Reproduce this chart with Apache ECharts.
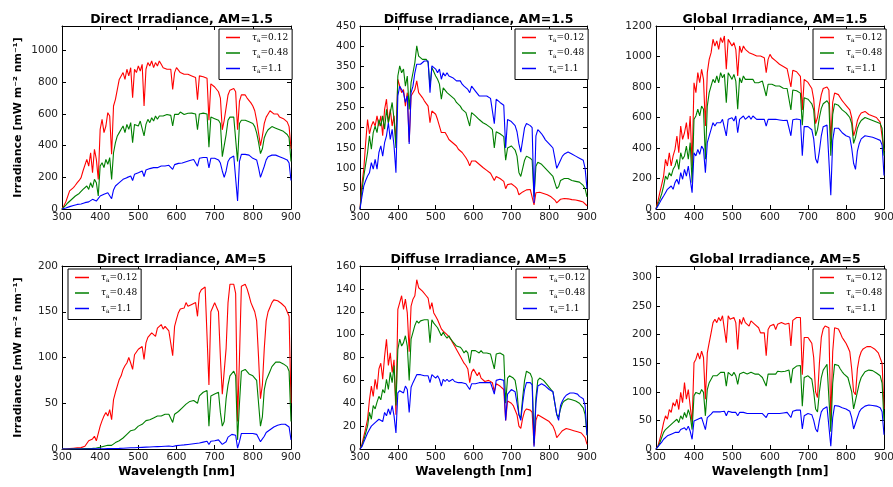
<!DOCTYPE html>
<html>
<head>
<meta charset="utf-8">
<script src="https://cdn.jsdelivr.net/npm/echarts@6/dist/echarts.min.js"></script>
<style>
  html, body { margin: 0; background: #fff; }
  #chart { width: 893px; height: 487px; }
</style>
</head>
<body>
<div id="chart"></div>
<script>
// wavelength grid (nm), 5 nm steps, one row = 50 nm
const wavelength = [
  300,305,310,315,320,325,330,335,340,345,
  350,355,360,365,370,375,380,385,390,395,
  400,405,410,415,420,425,430,435,440,445,
  450,455,460,465,470,475,480,485,490,495,
  500,505,510,515,520,525,530,535,540,545,
  550,555,560,565,570,575,580,585,590,595,
  600,605,610,615,620,625,630,635,640,645,
  650,655,660,665,670,675,680,685,690,695,
  700,705,710,715,720,725,730,735,740,745,
  750,755,760,765,770,775,780,785,790,795,
  800,805,810,815,820,825,830,835,840,845,
  850,855,860,865,870,875,880,885,890,895,
  900
]
const tauLabels = ['0.12', '0.48', '1.1']

// Direct, AM=1.5
const direct15_012 = [
  0,20,45,80,114,125,135,150,166,180,
  198,240,229,313,271,355,229,377,313,187,
  503,566,482,524,608,587,345,650,692,755,
  818,840,861,818,882,840,892,703,882,861,
  903,871,913,650,882,924,903,934,892,924,
  903,934,913,892,903,882,871,882,755,861,
  892,882,861,871,850,861,850,845,840,835,
  830,690,840,838,835,830,825,560,790,780,
  770,760,740,700,500,560,640,720,750,760,
  760,740,500,680,720,725,720,700,690,670,
  650,620,560,480,400,460,540,580,600,620,
  610,600,590,600,580,570,570,560,550,520,
  380
]
const direct15_048 = [
  0,10,25,38,50,60,72,82,93,98,
  103,124,114,145,124,166,135,187,166,82,
  271,292,261,313,282,324,187,355,419,461,
  482,503,524,482,534,503,545,419,534,545,
  524,555,545,461,534,566,545,576,555,587,
  566,587,576,587,576,597,587,591,524,597,
  604,597,612,604,597,608,604,600,605,600,
  600,500,600,605,605,608,600,390,580,575,
  570,565,560,540,330,400,470,560,580,580,
  580,570,300,540,560,565,560,555,550,545,
  540,520,480,420,350,380,450,480,500,510,
  520,515,510,505,500,495,490,480,470,450,
  300
]
const direct15_11 = [
  0,3,6,10,15,18,22,25,29,30,
  32,36,40,38,45,50,61,55,50,40,
  82,88,93,98,103,100,65,120,145,155,
  166,175,187,192,198,203,208,180,219,222,
  229,234,240,205,246,250,255,258,261,260,
  261,266,271,270,271,274,276,275,250,280,
  282,288,292,290,292,298,303,306,310,312,
  315,270,320,322,325,325,325,260,320,320,
  320,315,310,290,240,200,240,300,320,330,
  335,340,50,300,345,345,345,342,340,330,
  320,315,310,260,200,190,270,310,330,335,
  340,340,340,335,330,325,320,315,310,290,
  180
]

// Diffuse, AM=1.5
const diffuse15_012 = [
  0,60,98,163,220,185,204,215,204,229,
  204,229,180,245,270,212,245,204,229,163,
  319,302,286,294,253,286,165,278,278,294,
  315,286,282,274,266,262,253,212,241,237,
  233,220,204,188,192,188,180,171,167,163,
  159,155,147,143,139,135,126,118,106,118,
  122,118,114,110,106,102,98,95,92,88,
  85,70,80,78,75,72,68,50,60,62,
  62,58,55,50,35,38,42,45,47,48,
  48,45,10,40,42,41,40,38,37,35,
  32,30,28,22,15,18,24,25,26,26,
  25,24,23,23,22,21,20,18,17,14,
  8
]
const diffuse15_048 = [
  0,45,81,110,139,180,147,188,204,188,
  220,204,229,196,245,212,237,262,220,150,
  327,352,335,344,302,327,245,311,335,360,
  401,376,372,368,372,368,360,302,348,344,
  327,319,307,270,298,294,286,282,278,274,
  270,262,258,253,245,241,237,233,204,237,
  233,229,225,220,216,212,210,207,205,200,
  195,150,190,188,185,182,178,120,150,152,
  155,150,145,130,90,80,100,120,130,128,
  125,120,30,105,115,112,110,105,100,95,
  90,85,80,65,50,55,70,72,75,75,
  75,72,70,70,68,67,66,62,58,50,
  30
]
const diffuse15_11 = [
  0,30,57,70,81,89,114,98,122,98,
  139,155,130,163,180,212,171,196,155,89,
  278,302,294,286,262,278,160,286,302,335,
  356,352,356,360,364,368,364,286,352,348,
  344,335,344,319,335,327,335,327,327,323,
  319,315,319,315,307,302,298,294,286,302,
  298,290,286,278,282,278,280,278,275,272,
  270,210,270,266,262,258,255,150,220,218,
  215,210,205,190,160,140,170,200,210,208,
  205,200,15,180,195,190,185,178,170,165,
  160,155,150,125,100,100,120,130,135,138,
  140,138,135,132,130,128,125,122,120,100,
  50
]

// Global, AM=1.5
const global15_012 = [
  0,50,107,160,216,326,282,369,282,348,
  391,479,369,544,457,500,566,457,610,282,
  828,763,894,828,916,850,544,894,981,1025,
  1113,1069,1102,1047,1124,1091,1135,916,1113,1091,
  1069,1091,1047,872,1069,1025,1069,1047,1047,1025,
  1036,1014,1025,1003,1014,1003,992,992,894,981,
  1014,992,981,971,960,949,938,935,930,920,
  910,800,910,905,900,890,870,650,850,840,
  830,810,790,720,560,600,680,750,790,800,
  800,780,450,700,760,755,750,730,710,695,
  680,665,650,600,480,520,580,610,630,640,
  640,630,620,615,610,605,600,590,570,560,
  380
]
const global15_048 = [
  0,30,63,100,150,216,194,238,216,260,
  282,326,260,369,326,348,413,326,435,173,
  588,610,654,610,675,654,326,675,763,807,
  850,828,872,828,894,861,883,697,894,872,
  850,883,839,654,861,828,872,850,839,850,
  839,850,828,839,828,828,839,828,741,818,
  828,818,807,807,796,807,796,792,790,790,
  790,650,780,778,775,770,760,550,730,725,
  720,705,690,650,480,520,600,660,690,700,
  710,690,350,620,690,685,680,665,650,640,
  630,615,600,560,430,470,530,560,580,590,
  600,595,590,585,580,575,570,565,560,530,
  350
]
const global15_11 = [
  0,20,42,65,85,107,129,118,151,129,
  173,195,162,238,195,260,216,282,195,107,
  369,348,391,359,413,391,238,435,479,522,
  566,544,566,577,566,588,577,479,588,577,
  599,577,610,500,588,599,610,588,599,610,
  588,610,599,588,599,588,599,588,544,588,
  599,588,577,588,577,584,577,580,580,582,
  585,480,585,588,590,588,585,350,540,540,
  540,530,520,460,330,300,380,480,540,545,
  550,540,90,450,530,532,530,515,500,490,
  480,475,470,400,300,260,380,430,460,470,
  480,478,475,472,470,465,460,455,450,420,
  220
]

// Direct, AM=5
const direct5_012 = [
  0,0,0,0.2,0.4,0.6,0.8,1,1.2,1.4,
  1.5,2,3,5,9,7,11,14,9,7,
  25,31,36,40,36,43,32,54,62,69,
  76,80,87,91,94,100,94,87,103,105,
  109,111,112,98,116,122,120,127,129,123,
  132,134,136,131,134,132,129,127,102,134,
  142,149,153,151,154,160,156,155,158,157,
  160,145,170,174,176,177,176,70,150,155,
  160,155,150,100,60,60,110,160,180,182,
  180,170,30,100,178,180,180,175,168,160,
  155,150,140,100,55,70,110,140,150,155,
  160,163,165,162,160,159,158,155,150,145,
  50
]
const direct5_048 = [
  0,0,0,0,0,0,0.1,0.1,0.2,0.2,
  0.3,0.3,0.4,0.4,0.5,0.6,0.7,0.8,1,0.8,
  2,2.5,3,3.5,4,4.5,4,6,7,8,
  9,10,12,14,16,18,20,19,21,23,
  25,26,27,26,31,31,32,33,34,35,
  36,35,36,37,38,37,38,37,29,38,
  40,41,43,45,47,49,51,52,50,53,
  55,50,58,60,62,63,64,25,58,59,
  60,61,62,40,25,30,55,70,80,82,
  85,80,10,50,85,87,87,85,82,81,
  80,78,75,50,25,35,65,75,80,85,
  90,92,95,96,95,94,93,92,90,85,
  30
]
const direct5_11 = [
  0,0,0,0,0,0,0,0,0,0,
  0,0,0,0,0,0,0.1,0.1,0.1,0.1,
  0.2,0.2,0.3,0.3,0.4,0.4,0.4,0.5,0.6,0.6,
  0.7,0.8,0.9,1,1.1,1.2,1.3,1.2,1.4,1.5,
  1.6,1.7,1.8,1.7,2,2.1,2.2,2.3,2.4,2.5,
  2.6,2.7,2.8,2.9,3,3.1,3.2,3.3,2.8,3.5,
  3.7,3.9,4.1,4.3,4.5,4.8,5,5.3,5.5,5.8,
  6,5.5,6.5,7,7.5,8,8.5,5,8.5,9,
  9,9.5,10,8,5,5,8,13,15,16,
  16,15,1,8,17,17,17,17,17,16,
  17,16,16,12,8,9,14,18,20,21,
  22,24,25,26,26,27,27,27,27,24,
  10
]

// Diffuse, AM=5
const diffuse5_012 = [
  0,4,11,18,26,43,55,46,61,52,
  70,75,61,81,96,73,84,67,78,30,
  122,128,134,122,131,119,85,125,131,134,
  148,141,140,138,137,134,132,122,128,119,
  116,113,109,105,103,102,100,99,96,93,
  90,87,86,81,78,75,73,70,58,67,
  70,67,64,67,62,61,59,60,60,59,
  58,50,57,56,55,54,52,25,42,41,
  40,38,37,30,20,18,27,33,35,35,
  34,32,3,25,30,29,28,27,26,25,
  24,22,20,16,10,9,14,16,17,18,
  18,17,17,16,16,15,15,14,13,10,
  4
]
const diffuse5_048 = [
  0,3,8,14,20,32,26,38,35,41,
  46,43,52,49,61,52,67,58,73,38,
  87,96,90,93,99,90,60,96,102,108,
  112,110,112,113,113,112,113,93,113,110,
  110,106,105,99,102,99,97,99,96,94,
  93,90,91,89,87,84,86,84,75,86,
  87,86,87,84,86,84,85,84,83,83,
  82,70,83,84,84,83,82,40,62,64,
  65,62,60,50,30,27,45,60,68,67,
  66,62,5,45,60,62,62,60,58,56,
  55,52,50,40,30,28,35,40,42,43,
  44,44,43,43,42,41,40,38,36,30,
  12
]
const diffuse5_11 = [
  0,2,6,10,14,17,20,19,23,22,
  26,27,24,32,29,35,30,38,29,14,
  49,51,52,49,55,52,32,54,58,59,
  65,64,65,65,64,65,64,58,65,64,
  62,64,61,55,61,59,61,59,59,61,
  59,59,58,59,58,58,57,57,52,57,
  58,57,57,58,57,58,59,58,58,58,
  59,48,60,61,61,61,60,25,48,50,
  52,51,50,40,30,25,40,52,58,58,
  58,56,2,40,55,56,57,56,55,54,
  52,51,50,40,30,25,38,42,45,47,
  48,49,49,49,48,48,46,45,44,38,
  12
]

// Global, AM=5
const global5_012 = [
  0,5,17,30,46,58,52,69,64,81,
  75,87,69,99,81,116,87,104,75,46,
  151,157,168,157,171,160,87,168,186,203,
  221,227,221,230,224,233,236,186,233,227,
  224,230,221,174,227,218,230,221,224,215,
  224,221,218,215,212,203,201,203,163,209,
  215,212,218,209,218,215,221,218,218,220,
  220,180,225,228,230,231,230,130,195,196,
  195,190,185,160,100,90,150,195,210,215,
  218,212,50,170,212,211,210,203,195,190,
  185,178,170,140,100,95,140,160,170,175,
  178,179,180,179,178,175,172,168,165,150,
  70
]
const global5_048 = [
  0,4,11,20,29,34,31,40,37,46,
  43,52,46,58,52,64,55,69,58,34,
  93,99,101,96,104,99,58,104,116,122,
  128,131,128,131,134,131,134,110,134,131,
  128,134,128,113,131,128,134,131,131,128,
  134,131,131,128,131,128,125,128,110,131,
  134,131,134,131,136,134,135,136,136,137,
  138,115,140,143,145,146,146,75,125,127,
  128,125,122,100,70,65,100,125,138,143,
  148,145,30,115,148,147,146,140,135,131,
  128,125,122,100,70,68,100,115,125,130,
  135,137,138,138,137,135,133,130,128,115,
  50
]
const global5_11 = [
  0,3,8,12,17,20,23,22,26,24,
  29,31,29,34,31,37,33,40,31,17,
  49,51,52,49,55,52,34,55,58,61,
  65,66,65,66,65,66,66,58,66,65,
  64,65,64,58,64,62,64,62,62,64,
  62,62,62,62,62,61,62,61,55,62,
  62,62,62,62,64,62,64,63,64,64,
  65,55,66,67,68,68,68,35,58,60,
  62,61,60,50,35,30,50,65,70,72,
  74,72,5,55,76,76,75,73,72,71,
  70,68,66,55,35,35,55,65,70,72,
  75,76,77,77,76,76,75,73,72,65,
  25
]

const titles = [
  'Direct Irradiance, AM=1.5', 'Diffuse Irradiance, AM=1.5', 'Global Irradiance, AM=1.5',
  'Direct Irradiance, AM=5', 'Diffuse Irradiance, AM=5', 'Global Irradiance, AM=5'
]
const panelData = [
  [direct15_012, direct15_048, direct15_11],
  [diffuse15_012, diffuse15_048, diffuse15_11],
  [global15_012, global15_048, global15_11],
  [direct5_012, direct5_048, direct5_11],
  [diffuse5_012, diffuse5_048, diffuse5_11],
  [global5_012, global5_048, global5_11]
]
const yMax = [1155, 450, 1200, 200, 160, 320]
const yStep = [200, 50, 200, 50, 20, 50]

// layout (px)
const grids = [
  [62, 26, 229, 183], [360, 26, 227, 183], [656, 26, 228, 183],
  [62, 266, 229, 183], [360, 266, 227, 183], [656, 266, 228, 183]
]
const legendPos = [[219, 29], [515, 29], [813, 29], [68, 269], [516, 269], [813, 269]]
const colors = ['#ff0000', '#007f00', '#0000ff']
const FONT = 'DejaVu Sans'

const chart = echarts.init(document.getElementById('chart'))

const option = {
  backgroundColor: '#fff',
  animation: false,
  title: [], grid: [], xAxis: [], yAxis: [], legend: [], series: []
}

grids.forEach((g, i) => {
  option.grid.push({
    left: g[0], top: g[1], width: g[2], height: g[3],
    outerBoundsMode: 'none', containLabel: false
  })

  option.title.push({
    text: titles[i],
    left: g[0] + g[2] / 2, top: g[1] - 18, textAlign: 'center',
    textStyle: { fontFamily: FONT, fontWeight: 'bold', fontSize: 12.5, color: '#000' }
  })

  // bottom / top x axes, ticks pointing in on all four sides
  ;['bottom', 'top'].forEach(pos => {
    option.xAxis.push({
      type: 'value', gridIndex: i, position: pos,
      min: 300, max: 900, interval: 100,
      axisLine: { show: true, onZero: false, lineStyle: { color: '#000', width: 1 } },
      axisTick: { show: true, inside: true, length: 4, lineStyle: { color: '#000' } },
      axisLabel: {
        show: pos === 'bottom', margin: 3, fontSize: 10.5, color: '#222', fontFamily: FONT,
        formatter: v => String(v)
      },
      splitLine: { show: false },
      name: (pos === 'bottom' && i >= 3) ? 'Wavelength [nm]' : '',
      nameLocation: 'middle', nameGap: 17,
      nameTextStyle: { fontFamily: FONT, fontWeight: 'bold', fontSize: 12, color: '#000' }
    })
  })
  ;['left', 'right'].forEach(pos => {
    option.yAxis.push({
      type: 'value', gridIndex: i, position: pos,
      min: 0, max: yMax[i], interval: yStep[i],
      axisLine: { show: true, onZero: false, lineStyle: { color: '#000', width: 1 } },
      axisTick: { show: true, inside: true, length: 4, lineStyle: { color: '#000' } },
      axisLabel: {
        show: pos === 'left', margin: 4, fontSize: 10.5, color: '#222', fontFamily: FONT,
        showMaxLabel: yMax[i] % yStep[i] === 0,
        formatter: v => String(v)
      },
      splitLine: { show: false },
      name: (pos === 'left' && i % 3 === 0) ? 'Irradiance [mW m\u207B\u00B2 nm\u207B\u00B9]' : '',
      nameLocation: 'middle', nameGap: 38,
      nameTextStyle: { fontFamily: FONT, fontWeight: 'bold', fontSize: 11, color: '#000' }
    })
  })

  option.legend.push({
    left: legendPos[i][0], top: legendPos[i][1], orient: 'vertical',
    data: tauLabels,
    icon: 'rect',
    backgroundColor: '#fff', borderColor: '#000', borderWidth: 1, borderRadius: 0,
    padding: [4, 4, 5, 7], itemGap: 5, itemWidth: 14, itemHeight: 1.5,
    selectedMode: false,
    formatter: name => '{t|\u03C4}{s|a}{n|=' + name + '}',
    textStyle: {
      padding: [0, 0, 0, 7],
      rich: {
        t: { fontFamily: 'DejaVu Serif', fontStyle: 'italic', fontSize: 9, color: '#000', lineHeight: 12, verticalAlign: 'middle' },
        s: { fontFamily: 'DejaVu Serif', fontSize: 6, color: '#000', lineHeight: 12, verticalAlign: 'bottom' },
        n: { fontFamily: 'DejaVu Serif', fontSize: 9, color: '#000', lineHeight: 12, verticalAlign: 'middle' }
      }
    }
  })

  panelData[i].forEach((vals, k) => {
    option.series.push({
      name: tauLabels[k], type: 'line',
      xAxisIndex: 2 * i, yAxisIndex: 2 * i,
      data: wavelength.map((w, j) => [w, vals[j]]),
      symbol: 'none', showSymbol: false,
      lineStyle: { color: colors[k], width: 1.1 },
      itemStyle: { color: colors[k] },
      z: 2 + k
    })
  })
})

chart.setOption(option)
</script>
</body>
</html>
